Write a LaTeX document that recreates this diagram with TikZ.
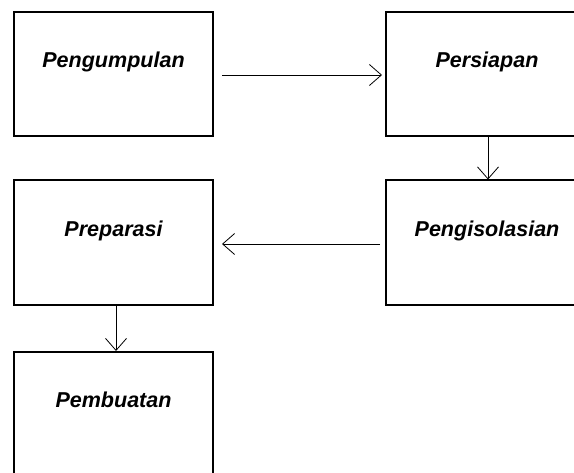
\documentclass[tikz,border=0pt]{standalone}
\usepackage{fontspec}
\setmainfont{Liberation Sans}
\usetikzlibrary{arrows.meta}
\begin{document}
\begin{tikzpicture}[x=1bp,y=-1bp,
  box/.style={draw=black, line width=2bp, minimum width=199bp, minimum height=124bp, inner sep=0pt},
  lbl/.style={font=\fontsize{21.6}{26}\selectfont\bfseries\itshape, inner sep=0pt, anchor=center},
  conn/.style={line width=0.8bp, -{Straight Barb[length=12bp,width=21bp,line width=0.8bp]}}]
\useasboundingbox (0,0) rectangle (574,473);
\clip (0,0) rectangle (574,473);
\fill[white] (0,0) rectangle (574,473);
\node[box] (A) at (113.5,74) {};
\node[box, minimum width=202bp] (B) at (487,74) {};
\node[box, minimum width=202bp] (C) at (487,242.5) {};
\node[box] (D) at (113.5,242.5) {};
\node[box] (E) at (113.5,414) {};
\node[lbl] (tA) at ([yshift=-51bp]A.north) {Pengumpulan};
\node[lbl] (tB) at ([yshift=-51bp]B.north) {Persiapan};
\node[lbl] (tC) at ([yshift=-51bp]C.north) {Pengisolasian};
\node[lbl] (tD) at ([yshift=-51bp]D.north) {Preparasi};
\node[lbl] (tE) at ([yshift=-49bp]E.north) {Pembuatan};
\draw[conn] ([xshift=8bp,yshift=-1bp]A.east) -- ([xshift=-3bp,yshift=-1bp]B.west);
\draw[conn] ([xshift=1bp]B.south) -- ([xshift=1bp]C.north);
\draw[conn] ([xshift=-5bp,yshift=-1.5bp]C.west) -- ([xshift=8bp,yshift=-1.5bp]D.east);
\draw[conn] ([xshift=2.5bp]D.south) -- ([xshift=2.5bp]E.north);
\end{tikzpicture}
\end{document}
